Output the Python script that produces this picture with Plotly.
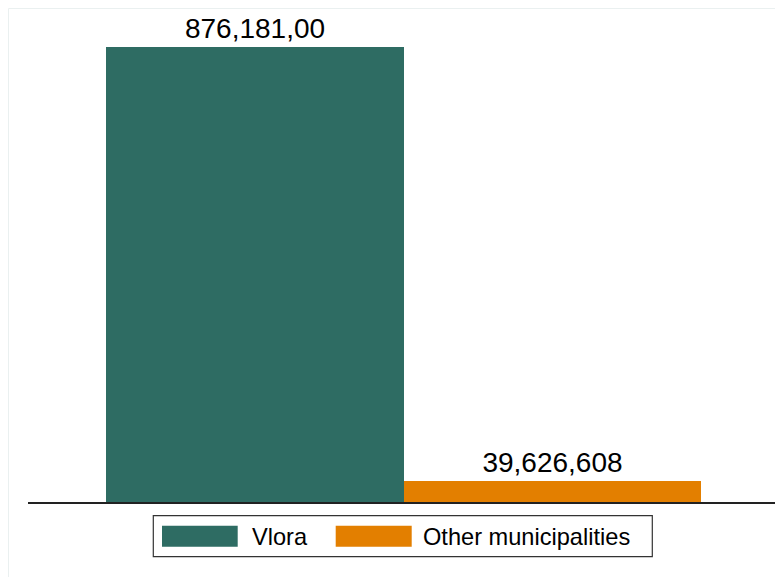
import plotly.graph_objects as go

categories = ["Vlora", "Other municipalities"]
values = [876181000, 39626608]
value_labels = ["876,181,00", "39,626,608"]
colors = ["#2e6c63", "#e37f00"]

OFF = 8  # browser body margin
W, H = 783 - OFF, 577 - OFF
L, R, T, B = 20, 4, 2, 75
pw, ph = W - L - R, H - T - B

def px(x):
    return (x - OFF - L) / pw

def py(y):
    return (H - B - (y - OFF)) / ph

FONT = "Liberation Sans, Arial, Helvetica, sans-serif"

fig = go.Figure()
for i, (c, v, t, col) in enumerate(zip(categories, values, value_labels, colors)):
    fig.add_trace(go.Bar(
        x=[i], y=[v], name=c, width=1,
        marker=dict(color=col, line=dict(width=0)),
        text=[t], textposition="outside", cliponaxis=False,
        textfont=dict(family=FONT, size=28, color="black"),
        showlegend=False,
    ))

shapes = [
    dict(type="rect", xref="paper", yref="paper",
         x0=px(8.5), x1=px(W + 30), y0=py(H + 30), y1=py(8.5),
         line=dict(color="#eaf0f0", width=1), fillcolor="rgba(0,0,0,0)", layer="below"),
    dict(type="rect", xref="paper", yref="paper",
         x0=px(153.3), x1=px(652.3), y0=py(556.7), y1=py(515.7),
         line=dict(color="#333333", width=1.2), fillcolor="white"),
]
annotations = []
sw_x = [(162, 237.7), (335.7, 411.7)]
txt_x = [249.5, 421]
for (x0, x1), tx, c, col in zip(sw_x, txt_x, categories, colors):
    shapes.append(dict(type="rect", xref="paper", yref="paper",
                       x0=px(x0), x1=px(x1), y0=py(546.7), y1=py(525.7),
                       line=dict(width=0), fillcolor=col))
    annotations.append(dict(xref="paper", yref="paper", x=px(tx), y=py(536.5),
                            xanchor="left", yanchor="middle", showarrow=False,
                            text=c, font=dict(family=FONT, size=23.6, color="black")))

fig.update_layout(
    width=W, height=H,
    margin=dict(l=L, r=R, t=T, b=B),
    paper_bgcolor="white", plot_bgcolor="white",
    bargap=0, barmode="overlay",
    xaxis=dict(range=[-0.7626, 1.7626], showticklabels=False, showgrid=False,
               zeroline=False, showline=True, linecolor="#222222", linewidth=2,
               ticks=""),
    yaxis=dict(range=[0, 947.4e6], visible=False, showgrid=False, zeroline=False),
    shapes=shapes, annotations=annotations,
    showlegend=False,
)

fig.write_html("out.html")
